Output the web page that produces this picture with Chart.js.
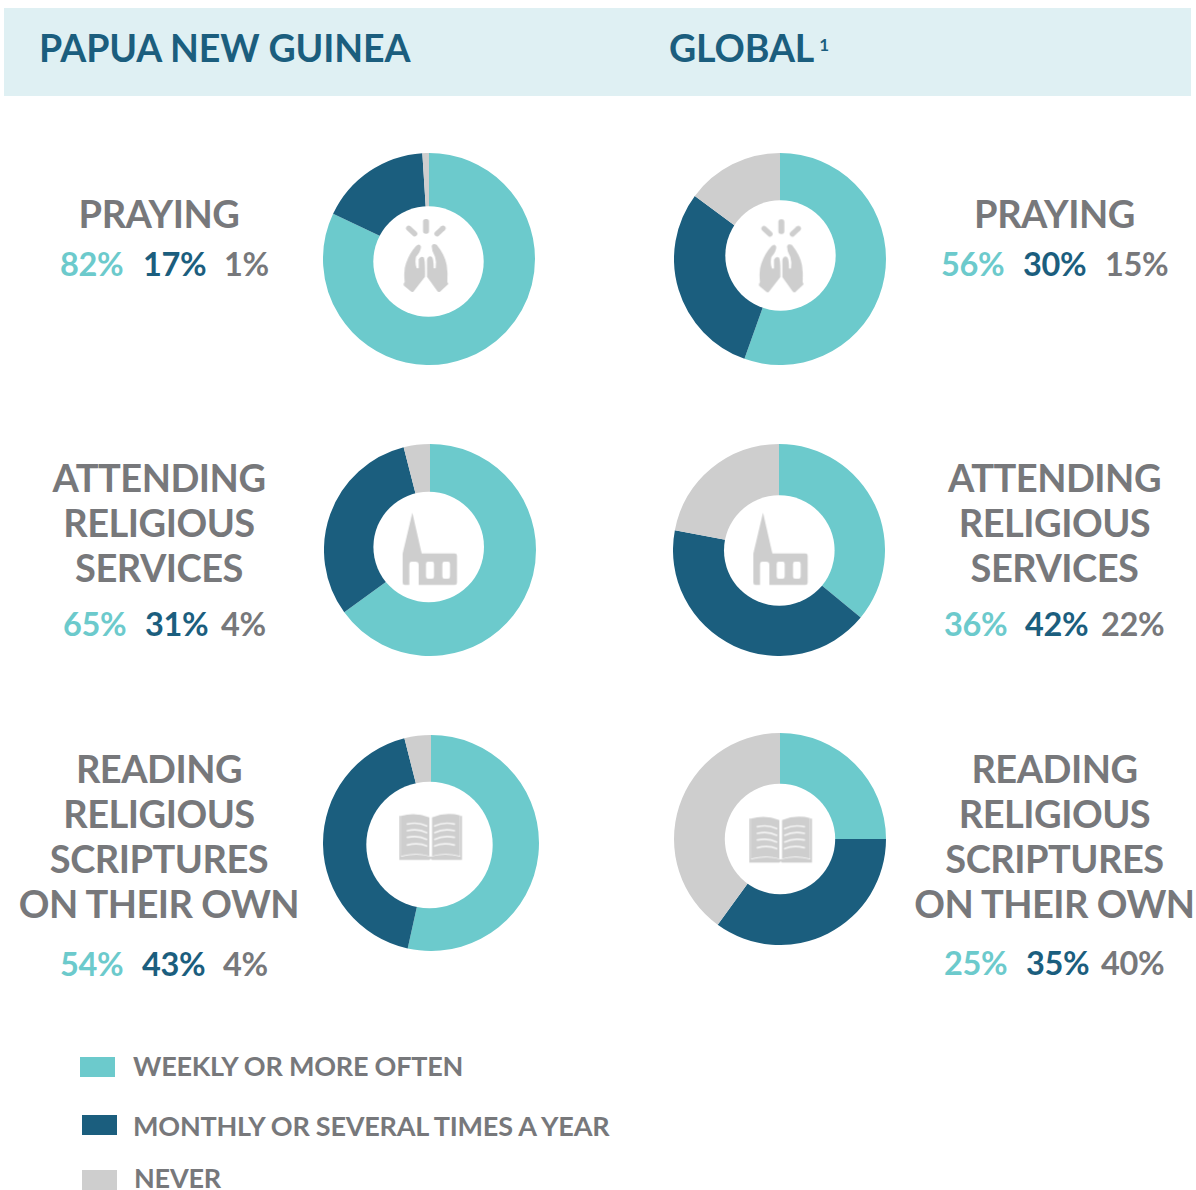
<!DOCTYPE html>
<html><head><meta charset="utf-8">
<script src="https://cdn.jsdelivr.net/npm/chart.js@4"></script>
<style>
html,body{margin:0;padding:0;background:#fff;width:1196px;height:1190px;overflow:hidden}
body{position:relative;font-family:Lato,sans-serif;font-weight:700;color:#77787b}
.abs{position:absolute;white-space:nowrap}
.band{position:absolute;left:4px;top:8px;width:1187px;height:88px;background:#dff0f3}
.h{font-size:37.5px;color:#1b5e7e;letter-spacing:-.1px;line-height:44px}
.lab{font-size:38px;line-height:45px;text-align:center;width:300px;letter-spacing:-.5px}
.pct{font-size:32.5px;line-height:38px;letter-spacing:-.3px}
.leg{font-size:27px;line-height:24px;letter-spacing:-.22px}
.sw{position:absolute;width:35px;height:20px}
canvas{position:absolute}
svg{position:absolute;overflow:visible}
</style></head><body>
<div class="band"></div>
<div class="abs h" style="left:39px;top:26px">PAPUA NEW GUINEA</div>
<div class="abs h" style="left:669px;top:26px">GLOBAL<sup style="font-size:17px;position:relative;top:-11px;vertical-align:baseline;margin-left:5px;letter-spacing:0">1</sup></div>
<div id="root"></div>
<svg width="0" height="0" style="position:absolute">
<defs>
<g id="i-pray" fill="#cecece">
<rect x="309" y="237" width="18" height="44" rx="8"/>
<rect x="255" y="265" width="40" height="16" rx="8" transform="rotate(42 275 273)"/>
<rect x="340" y="265" width="40" height="16" rx="8" transform="rotate(-42 360 273)"/>
<path d="M288,318 Q298,308 303,320 Q302,335 288,350 Q284,370 290,385 L296,385 L296,358 Q302,346 311,352 Q316,360 315,410 L280,455 Q276,458 272,454 L252,437 Q249,432 254,426 Q250,390 258,370 Q268,340 288,318Z"/>
<path d="M335,318 Q338,308 350,314 Q375,345 380,375 Q384,400 382,426 L385,432 L360,455 Q355,458 351,452 L321,410 L321,360 Q324,346 335,350 Q341,354 341,385 L347,385 Q350,365 345,350 Q335,335 335,318Z"/>
</g>
<g id="i-church" fill="#cecece">
<path fill-rule="evenodd" d="M277,218 L305,340 L404,340 Q411,340 411,347 L411,428 Q411,435 404,435 L296,435 L296,375 Q296,365 286,365 L275,365 Q268,365 268,375 L268,435 L254,435 Q248,435 248,428 L248,340 Z M324,365 Q318,365 318,372 L318,409 Q318,416 324,416 L336,416 Q342,416 342,409 L342,372 Q342,365 336,365 Z M373,365 Q367,365 367,372 L367,409 Q367,416 373,416 L384,416 Q390,416 390,409 L390,372 Q390,365 384,365 Z"/>
</g>
<g id="i-book">
<path fill="#cecece" d="M238,258 L243,258 L243,378 Q290,366 328,378 L328,262 Q285,245 243,258 Z"/>
<path fill="#cecece" d="M336,262 Q378,245 420,256 L420,378 Q375,366 336,378 Z"/>
<path fill="#cecece" d="M238,258 L243,258 L243,380 Q290,368 332,380 Q375,368 421,380 L421,258 L426,258 L426,390 L336,390 L332,386 L328,390 L238,390 Z"/>
<g fill="none" stroke="#f4f4f4" stroke-width="5" stroke-linecap="round">
<path d="M262,282 Q295,275 320,288"/><path d="M262,302 Q295,295 320,308"/><path d="M262,322 Q295,315 320,328"/><path d="M262,345 Q295,336 320,348"/>
<path d="M344,288 Q370,275 403,282"/><path d="M344,308 Q370,295 403,302"/><path d="M344,328 Q370,315 403,322"/><path d="M344,348 Q370,336 403,345"/>
</g>
</g>
</defs>
</svg>
<script>
const seriesLabels = ['WEEKLY OR MORE OFTEN','MONTHLY OR SEVERAL TIMES A YEAR','NEVER'];
const seriesColors = ['#6ccacc','#1b5e7e','#cecece'];
const activities = [['PRAYING'],['ATTENDING','RELIGIOUS','SERVICES'],['READING','RELIGIOUS','SCRIPTURES','ON THEIR OWN']];
const pngPraying = [82,17,1];
const pngAttending = [65,31,4];
const pngReading = [54,43,4];
const globalPraying = [56,30,15];
const globalAttending = [36,42,22];
const globalReading = [25,35,40];

const root = document.getElementById('root');
const holePlugin = {
  id:'hole',
  afterDatasetsDraw(chart,args,o){
    const a=chart.chartArea, x=(a.left+a.right)/2+o.dx, y=(a.top+a.bottom)/2+o.dy, g=chart.ctx;
    g.save();g.fillStyle='#fff';g.beginPath();g.arc(x,y,o.r,0,Math.PI*2);g.fill();g.restore();
  }
};
const charts = [
 {data:pngPraying,left:323,top:153,r:106,hole:[-0.5,2.5,55.2]},
 {data:pngAttending,left:324,top:444,r:106,hole:[-1.3,-3,55.3]},
 {data:pngReading,left:323,top:735,r:108,hole:[-1.5,2,63.2]},
 {data:globalPraying,left:674,top:153,r:106,hole:[0.5,-3.5,55.2]},
 {data:globalAttending,left:672.5,top:444,r:106,hole:[0.3,0.5,55.3]},
 {data:globalReading,left:674,top:733,r:106,hole:[0,0,55.2]}
];
charts.forEach(c=>{
  const cv=document.createElement('canvas');
  const s=c.r*2;
  cv.style.cssText=`left:${c.left}px;top:${c.top}px;width:${s}px;height:${s}px`;
  cv.width=s;cv.height=s;cv.setAttribute('role','img');
  root.appendChild(cv);
  new Chart(cv,{type:'doughnut',data:{labels:seriesLabels,datasets:[{data:c.data,backgroundColor:seriesColors,borderWidth:0}]},
    plugins:[holePlugin],
    options:{responsive:false,animation:false,cutout:'35%',layout:{padding:0},plugins:{legend:{display:false},tooltip:{enabled:false},hole:{dx:c.hole[0],dy:c.hole[1],r:c.hole[2]}}}});
});

function icon(name,dx,dy){
  const ns='http://www.w3.org/2000/svg';
  const sv=document.createElementNS(ns,'svg');
  sv.setAttribute('width','1');sv.setAttribute('height','1');
  sv.style.left='0';sv.style.top='0';
  const u=document.createElementNS(ns,'use');
  u.setAttribute('href','#'+name);
  u.setAttribute('transform',`translate(${dx} ${dy}) scale(${1/3})`);
  sv.appendChild(u);root.appendChild(sv);
}
icon('i-pray',320,140);icon('i-pray',675.3,140.3);
icon('i-church',320,440);icon('i-church',670.7,440);
icon('i-book',320,730);icon('i-book',670,732.7);

function text(cls,html,style){
  const d=document.createElement('div');d.className='abs '+cls;d.innerHTML=html;d.style.cssText=style;root.appendChild(d);
}
[[activities[0],191],[activities[1],455],[activities[2],746]].forEach(([ls,top])=>{
  text('lab',ls.join('<br>'),`left:9px;top:${top}px`);
  text('lab',ls.join('<br>'),`left:904.5px;top:${top}px`);
});
function pcts(vals,xs,top){
  vals.forEach((v,i)=>{
    const col=['#6ccacc','#1b5e7e','#77787b'][i];
    text('pct',v+'%',`left:${xs[i]}px;top:${top}px;color:${col}`);
  });
}
pcts(pngPraying,[60,143,224],245);
pcts(globalPraying,[941,1023,1105],245);
pcts(pngAttending,[63,145,221],605);
pcts(globalAttending,[944,1025,1101],605);
pcts(pngReading,[60,142,223],945);
pcts(globalReading,[944,1026,1101],944);

const legendPos=[[80,1057,133,1054],[82,1115,133,1114],[82,1170,134,1166]];
seriesLabels.forEach((l,i)=>{
  const [sx,sy,tx,ty]=legendPos[i];
  const sw=document.createElement('div');sw.className='sw';sw.style.cssText=`left:${sx}px;top:${sy}px;background:${seriesColors[i]}`;root.appendChild(sw);
  text('leg',l,`left:${tx}px;top:${ty}px`);
});
</script>
</body></html>
